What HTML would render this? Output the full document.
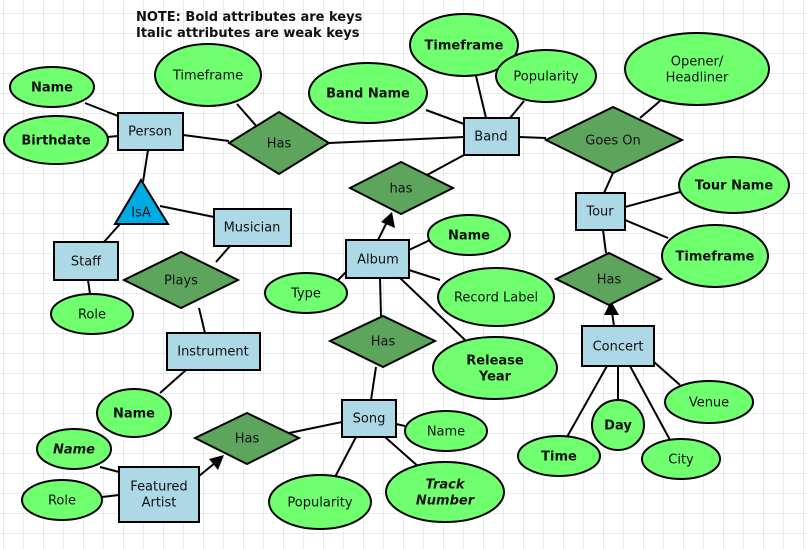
<!DOCTYPE html>
<html><head><meta charset="utf-8"><style>
html,body{margin:0;padding:0;background:#fff;}
svg{display:block;}
text{font-family:"DejaVu Sans","Liberation Sans",sans-serif;font-size:13px;fill:#111;}
.b{font-weight:bold;}
.i{font-style:italic;}
</style></head><body>
<svg width="807" height="549" viewBox="0 0 807 549" xmlns="http://www.w3.org/2000/svg">
<defs>
<pattern id="g" x="3" y="13" width="20" height="20" patternUnits="userSpaceOnUse">
<path d="M0 0H20M0 0V20" stroke="#d0d9d9" stroke-width="1" fill="none"/>
</pattern>
</defs>
<rect width="807" height="549" fill="url(#g)"/>
<g stroke="#000" stroke-width="2" fill="none">
<line x1="85" y1="103" x2="118" y2="116"/>
<line x1="107" y1="137" x2="118" y2="136"/>
<line x1="237" y1="104" x2="258" y2="128"/>
<line x1="183" y1="135" x2="229" y2="141"/>
<line x1="329" y1="143" x2="464" y2="137"/>
<line x1="426" y1="110" x2="464" y2="124"/>
<line x1="476" y1="76" x2="486" y2="118"/>
<line x1="524" y1="101" x2="510" y2="118"/>
<line x1="519" y1="137" x2="546" y2="138"/>
<line x1="660" y1="101" x2="640" y2="118"/>
<line x1="613" y1="173" x2="604" y2="193"/>
<line x1="464" y1="155" x2="427" y2="175"/>
<line x1="378" y1="240" x2="387" y2="222"/>
<line x1="148" y1="150" x2="143" y2="182"/>
<line x1="160" y1="206" x2="214" y2="217"/>
<line x1="120" y1="224" x2="104" y2="242"/>
<line x1="88" y1="280" x2="90" y2="294"/>
<line x1="230" y1="246" x2="216" y2="262"/>
<line x1="199" y1="308" x2="205" y2="333"/>
<line x1="186" y1="370" x2="160" y2="393"/>
<line x1="409" y1="250" x2="430" y2="240"/>
<line x1="346" y1="272" x2="338" y2="280"/>
<line x1="409" y1="270" x2="440" y2="280"/>
<line x1="400" y1="278" x2="465" y2="340"/>
<line x1="380" y1="278" x2="381" y2="316"/>
<line x1="376" y1="367" x2="371" y2="400"/>
<line x1="396" y1="424" x2="405" y2="426"/>
<line x1="385" y1="437" x2="420" y2="468"/>
<line x1="356" y1="437" x2="335" y2="477"/>
<line x1="342" y1="422" x2="289" y2="433"/>
<line x1="199" y1="476" x2="215" y2="463"/>
<line x1="100" y1="467" x2="119" y2="472"/>
<line x1="102" y1="497" x2="119" y2="495"/>
<line x1="625" y1="207" x2="680" y2="192"/>
<line x1="625" y1="220" x2="668" y2="238"/>
<line x1="603" y1="230" x2="606" y2="253"/>
<line x1="614" y1="326" x2="612" y2="312"/>
<line x1="654" y1="362" x2="680" y2="385"/>
<line x1="618" y1="366" x2="618" y2="400"/>
<line x1="607" y1="366" x2="567" y2="437"/>
<line x1="630" y1="366" x2="670" y2="440"/>
</g>
<g fill="#000">
<polygon points="392,212 395,228 381,222"/>
<polygon points="224,455 218,470 209,459"/>
<polygon points="611,301 619,315 604,315"/>
</g>
<g stroke="#000" stroke-width="2" fill="#5da55d">
<polygon points="229,143 279,112 329,143 279,174"/>
<polygon points="546,140 613,107 682,140 613,173"/>
<polygon points="350,188 401,162 453,188 401,214"/>
<polygon points="124,280 181,252 238,280 181,308"/>
<polygon points="330,341 383,316 435,341 383,367"/>
<polygon points="556,279 609,253 661,279 609,305"/>
<polygon points="195,438 247,413 299,438 247,464"/>
</g>
<polygon points="141,180 115,224 168,224" fill="#00aae4" stroke="#000" stroke-width="2"/>
<g stroke="#000" stroke-width="2" fill="#add8e6">
<rect x="118" y="113" width="65" height="37"/>
<rect x="464" y="118" width="55" height="37"/>
<rect x="214" y="209" width="77" height="37"/>
<rect x="54" y="242" width="64" height="38"/>
<rect x="167" y="333" width="93" height="37"/>
<rect x="346" y="240" width="63" height="38"/>
<rect x="576" y="193" width="49" height="37"/>
<rect x="582" y="326" width="72" height="40"/>
<rect x="342" y="400" width="54" height="37"/>
<rect x="119" y="467" width="80" height="55"/>
</g>
<g stroke="#000" stroke-width="2" fill="#6fff6f">
<ellipse cx="52" cy="87" rx="42" ry="20"/>
<ellipse cx="56" cy="140" rx="52" ry="24"/>
<ellipse cx="208" cy="75" rx="53" ry="31"/>
<ellipse cx="368" cy="93" rx="59" ry="30"/>
<ellipse cx="464" cy="45" rx="54" ry="31"/>
<ellipse cx="546" cy="76" rx="50" ry="26"/>
<ellipse cx="697" cy="69" rx="72" ry="36"/>
<ellipse cx="92" cy="314" rx="41" ry="20"/>
<ellipse cx="134" cy="413" rx="37" ry="24"/>
<ellipse cx="469" cy="235" rx="41" ry="20"/>
<ellipse cx="306" cy="293" rx="41" ry="20"/>
<ellipse cx="496" cy="297" rx="58" ry="29"/>
<ellipse cx="495" cy="368" rx="62" ry="31"/>
<ellipse cx="734" cy="185" rx="55" ry="28"/>
<ellipse cx="715" cy="256" rx="53" ry="31"/>
<ellipse cx="709" cy="402" rx="44" ry="21"/>
<ellipse cx="618" cy="425" rx="26" ry="25"/>
<ellipse cx="559" cy="456" rx="41" ry="20"/>
<ellipse cx="681" cy="459" rx="39" ry="20"/>
<ellipse cx="446" cy="431" rx="41" ry="20"/>
<ellipse cx="445" cy="492" rx="59" ry="30"/>
<ellipse cx="320" cy="502" rx="51" ry="27"/>
<ellipse cx="74" cy="449" rx="37" ry="20"/>
<ellipse cx="62" cy="500" rx="40" ry="20"/>
</g>
<text x="136" y="21" class="b">NOTE: Bold attributes are keys</text>
<text x="136" y="37" class="b">Italic attributes are weak keys</text>
<g text-anchor="middle" dominant-baseline="central" transform="translate(0,1)">
<text x="52" y="87" class="b">Name</text>
<text x="56" y="140" class="b">Birthdate</text>
<text x="208" y="75">Timeframe</text>
<text x="150" y="131">Person</text>
<text x="279" y="143">Has</text>
<text x="368" y="93" class="b">Band Name</text>
<text x="464" y="45" class="b">Timeframe</text>
<text x="546" y="76">Popularity</text>
<text x="491" y="136">Band</text>
<text x="697" y="61">Opener/</text>
<text x="697" y="77">Headliner</text>
<text x="613" y="140">Goes On</text>
<text x="401" y="188">has</text>
<text x="141" y="212">IsA</text>
<text x="252" y="227">Musician</text>
<text x="86" y="261">Staff</text>
<text x="181" y="280">Plays</text>
<text x="92" y="314">Role</text>
<text x="213" y="351">Instrument</text>
<text x="134" y="413" class="b">Name</text>
<text x="378" y="259">Album</text>
<text x="469" y="235" class="b">Name</text>
<text x="306" y="293">Type</text>
<text x="496" y="297">Record Label</text>
<text x="383" y="341">Has</text>
<text x="495" y="360" class="b">Release</text>
<text x="495" y="376" class="b">Year</text>
<text x="600" y="211">Tour</text>
<text x="734" y="185" class="b">Tour Name</text>
<text x="715" y="256" class="b">Timeframe</text>
<text x="609" y="279">Has</text>
<text x="618" y="346">Concert</text>
<text x="709" y="402">Venue</text>
<text x="618" y="425" class="b">Day</text>
<text x="559" y="456" class="b">Time</text>
<text x="681" y="459">City</text>
<text x="369" y="418">Song</text>
<text x="446" y="431">Name</text>
<text x="445" y="484" class="b i">Track</text>
<text x="445" y="500" class="b i">Number</text>
<text x="320" y="502">Popularity</text>
<text x="247" y="438">Has</text>
<text x="74" y="449" class="b i">Name</text>
<text x="62" y="500">Role</text>
<text x="159" y="486">Featured</text>
<text x="159" y="502">Artist</text>
</g>
</svg>
</body></html>
